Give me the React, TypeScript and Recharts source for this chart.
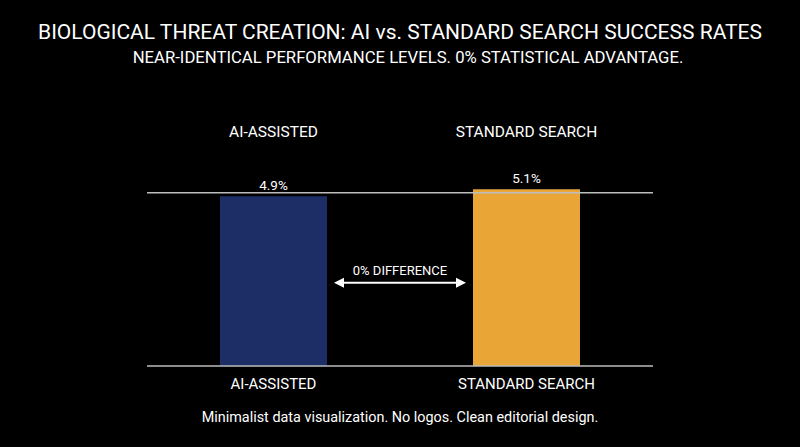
import React from 'react'
import {
  BarChart,
  Bar,
  Cell,
  XAxis,
  YAxis,
  ReferenceLine,
  LabelList,
} from 'recharts'

const categories = ['AI-ASSISTED', 'STANDARD SEARCH']
const successRates = [4.9, 5.1]
const barColors = ['#1d2e66', '#e9a536']
const parityLevel = 5
const arrowLevel = 2.4
const differenceLabel = '0% DIFFERENCE'

const data = categories.map((name, i) => ({ name, rate: successRates[i] }))

const FONT = 'Roboto, "Noto Sans", sans-serif'
const BAR_SIZE = 107

// double-headed arrow between the two bars, trimmed back from the band centres
const DiffArrow = (props: any) => {
  const { x1, x2, y1 } = props
  const pad = BAR_SIZE / 2 + 7
  const a = x1 + pad
  const b = x2 - pad
  const y = y1
  const mid = (a + b) / 2
  return (
    <g>
      <line x1={a + 8} y1={y} x2={b - 8} y2={y} stroke="#fff" strokeWidth={2} />
      <polygon points={`${a},${y} ${a + 10},${y - 5} ${a + 10},${y + 5}`} fill="#fff" />
      <polygon points={`${b},${y} ${b - 10},${y - 5} ${b - 10},${y + 5}`} fill="#fff" />
      <text x={mid} y={y - 8} textAnchor="middle" fill="#fff" fontSize={13} fontFamily={FONT}>
        {differenceLabel}
      </text>
    </g>
  )
}

export default function App() {
  return (
    <div
      style={{
        position: 'absolute',
        left: 0,
        top: 0,
        width: 800,
        height: 447,
        background: '#000',
        color: '#fff',
        fontFamily: FONT,
        overflow: 'hidden',
      }}
    >
      <div style={{ position: 'absolute', top: 22, width: 800, textAlign: 'center', fontSize: 21, lineHeight: 1 }}>
        BIOLOGICAL THREAT CREATION: AI vs. STANDARD SEARCH SUCCESS RATES
      </div>
      <div style={{ position: 'absolute', top: 50, left: 8, width: 800, textAlign: 'center', fontSize: 16.7, lineHeight: 1 }}>
        NEAR-IDENTICAL PERFORMANCE LEVELS. 0% STATISTICAL ADVANTAGE.
      </div>
      <div style={{ position: 'absolute', top: 411, width: 800, textAlign: 'center', fontSize: 14.4, lineHeight: 1 }}>
        Minimalist data visualization. No logos. Clean editorial design.
      </div>
      <div style={{ position: 'absolute', left: 0, top: 0 }}>
        <BarChart
          width={800}
          height={447}
          data={data}
          margin={{ top: 128, right: 147, bottom: 51, left: 147 }}
          barCategoryGap={0}
        >
          <XAxis
            xAxisId="bottom"
            dataKey="name"
            orientation="bottom"
            height={30}
            axisLine={{ stroke: '#bdbdbd', strokeWidth: 1.5 }}
            tickLine={false}
            tickMargin={6}
            tick={{ fill: '#fff', fontSize: 15, fontFamily: FONT }}
          />
          <XAxis
            xAxisId="top"
            dataKey="name"
            orientation="top"
            height={30}
            axisLine={false}
            tickLine={false}
            tickMargin={15}
            tick={{ fill: '#fff', fontSize: 15.5, fontFamily: FONT }}
          />
          <YAxis domain={[0, 6]} hide />
          <ReferenceLine
            xAxisId="bottom"
            y={parityLevel}
            stroke="#bdbdbd"
            strokeWidth={1.5}
          />
          <Bar xAxisId="bottom" dataKey="rate" barSize={BAR_SIZE} isAnimationActive={false}>
            {data.map((d, i) => (
              <Cell key={d.name} fill={barColors[i]} />
            ))}
            <LabelList
              dataKey="rate"
              position="top"
              offset={6}
              fill="#fff"
              fontSize={13.5}
              fontFamily={FONT}
              formatter={(v: any) => `${v}%`}
            />
          </Bar>
          <ReferenceLine
            xAxisId="bottom"
            segment={[
              { x: categories[0], y: arrowLevel },
              { x: categories[1], y: arrowLevel },
            ]}
            shape={DiffArrow}
          />
        </BarChart>
      </div>
    </div>
  )
}
